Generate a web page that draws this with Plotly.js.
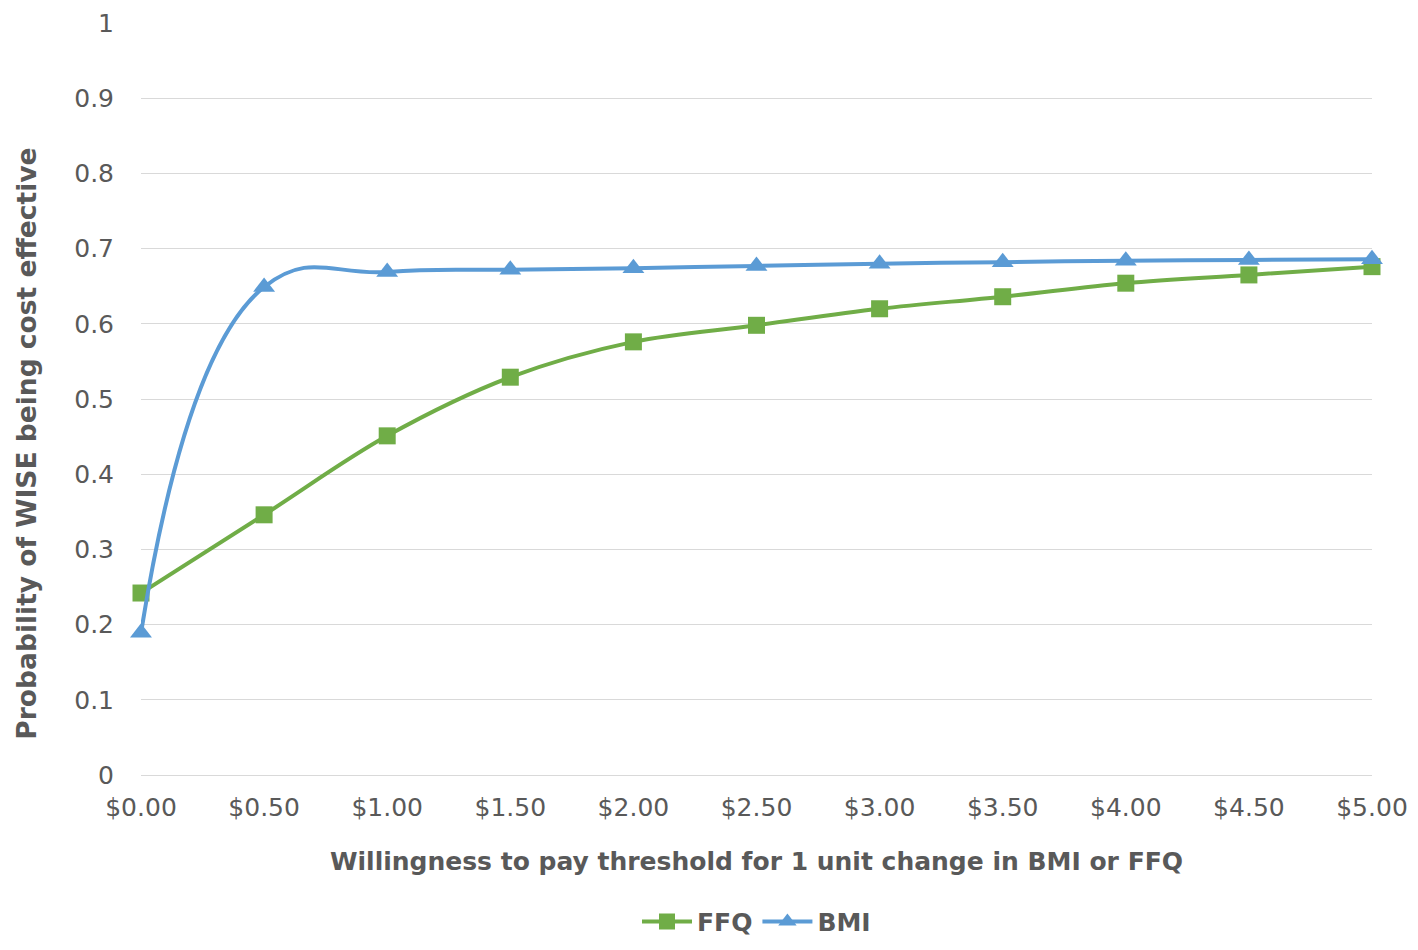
<!DOCTYPE html>
<html>
<head>
<meta charset="utf-8">
<script src="https://cdn.plot.ly/plotly-3.0.1.min.js"></script>
<style>html,body{margin:0;padding:0;background:#fff;}#chart{width:1418px;height:950px;}</style>
</head>
<body>
<div id="chart"></div>
<script>
const thresholds = [0, 0.5, 1, 1.5, 2, 2.5, 3, 3.5, 4, 4.5, 5];
const tickLabels = ["$0.00","$0.50","$1.00","$1.50","$2.00","$2.50","$3.00","$3.50","$4.00","$4.50","$5.00"];
const ffq = [0.242, 0.346, 0.451, 0.529, 0.576, 0.598, 0.620, 0.636, 0.654, 0.665, 0.676];
const bmi = [0.189, 0.649, 0.669, 0.672, 0.674, 0.677, 0.680, 0.682, 0.684, 0.685, 0.686];
const yTicks = [0, 0.1, 0.2, 0.3, 0.4, 0.5, 0.6, 0.7, 0.8, 0.9, 1];
const yTickLabels = ["0","0.1","0.2","0.3","0.4","0.5","0.6","0.7","0.8","0.9","1"];

const FONT = "DejaVu Sans, Liberation Sans, Arial, sans-serif";
const GREY = "#595959";

const traces = [
  {x: thresholds, y: ffq, name: "FFQ", type: "scatter", mode: "lines+markers",
   line: {color: "#70AD47", width: 4, shape: "spline", smoothing: 1},
   marker: {symbol: "square", size: 17, color: "#70AD47"}, cliponaxis: false},
  {x: thresholds, y: bmi, name: "BMI", type: "scatter", mode: "lines+markers",
   line: {color: "#5B9BD5", width: 4, shape: "spline", smoothing: 1.3},
   marker: {symbol: "triangle-up", size: 19, color: "#5B9BD5"}, cliponaxis: false}
];

const layout = {
  width: 1418, height: 950,
  margin: {l: 141, r: 46, t: 23, b: 175, autoexpand: false},
  paper_bgcolor: "#fff", plot_bgcolor: "#fff",
  font: {family: FONT, color: GREY, size: 24},
  xaxis: {
    range: [0, 5], tickvals: thresholds, ticktext: tickLabels,
    showgrid: false, zeroline: false, showline: true, linecolor: "#d9d9d9", linewidth: 1,
    ticks: "", ticklabelstandoff: 10, tickfont: {family: FONT, size: 25, color: GREY},
    title: {text: "Willingness to pay threshold for 1 unit change in BMI or FFQ",
            font: {family: FONT, size: 25, color: GREY, weight: "bold"}, standoff: 31},
    automargin: false
  },
  yaxis: {
    range: [0, 1], tickvals: yTicks, ticktext: yTickLabels,
    showgrid: true, gridcolor: "#d9d9d9", gridwidth: 1, zeroline: false, showline: false,
    ticks: "", ticklabelstandoff: 26, tickfont: {family: FONT, size: 25, color: GREY},
    automargin: false
  },
  annotations: [{
    text: "Probability of WISE being cost effective", textangle: -90,
    xref: "paper", yref: "paper", x: -0.093, y: 0.44, xanchor: "center", yanchor: "middle",
    showarrow: false, font: {family: FONT, size: 26.5, color: GREY, weight: "bold"}
  }],
  showlegend: true,
  legend: {orientation: "h", x: 0.5, xanchor: "center", y: -0.195, yanchor: "middle",
           font: {family: FONT, size: 25, color: GREY, weight: "bold"}, itemwidth: 50}
};

Plotly.newPlot("chart", traces, layout, {displayModeBar: false, staticPlot: true});
</script>
</body>
</html>
